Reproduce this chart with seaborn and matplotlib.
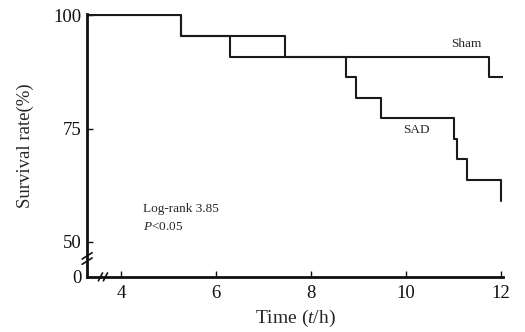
import pandas as pd
import matplotlib.pyplot as plt
import seaborn as sns

sns.set_style("ticks")
plt.rcParams['font.family'] = ['Liberation Serif', 'DejaVu Serif']
plt.rcParams['mathtext.fontset'] = 'custom'
plt.rcParams['mathtext.rm'] = 'Liberation Serif'
plt.rcParams['mathtext.it'] = 'Liberation Serif:italic'

# Kaplan-Meier steps (time in h, survival in %)
sham_t = [3.3, 5.27, 7.45, 11.75, 12.05]
sham_s = [100, 95.45, 90.9, 86.4, 86.4]
sad_t = [3.3, 5.27, 6.3, 8.75, 8.96, 9.48, 11.02, 11.08, 11.3, 12.0]
sad_s = [100, 95.45, 90.9, 86.4, 81.8, 77.3, 72.7, 68.2, 63.6, 59.1]

xticks = [4, 6, 8, 10, 12]
ybreak = 42.3  # where the broken axis shows "0"
yticks = [ybreak, 50, 75, 100]
ylabels = ['0', '50', '75', '100']

df = pd.concat([
    pd.DataFrame({"t": sham_t, "s": sham_s, "group": "Sham"}),
    pd.DataFrame({"t": sad_t, "s": sad_s, "group": "SAD"}),
])

fig = plt.figure(figsize=(5.25, 3.32), dpi=100)
ax = fig.add_axes([0.166, 0.166, 0.792, 0.792])
sns.lineplot(data=df, x="t", y="s", hue="group", units="group", estimator=None,
             palette={"Sham": "#1a1a1a", "SAD": "#1a1a1a"}, drawstyle="steps-post",
             linewidth=1.5, legend=False, ax=ax)

ax.set_xlim(3.28, 12.05)
ax.set_ylim(ybreak, 100.3)
ax.set_xticks(xticks)
ax.set_yticks(yticks)
ax.set_yticklabels(ylabels)
sns.despine(ax=ax)
for sp in ['left', 'bottom']:
    ax.spines[sp].set_linewidth(2)
    ax.spines[sp].set_color('#111111')
ax.tick_params(direction='in', length=4, width=1, labelsize=13.5, colors='#111111')
ax.tick_params(axis='y', pad=4)
ax.tick_params(axis='x', pad=6)
ax.yaxis.get_major_ticks()[0].tick1line.set_visible(False)

ax.set_xlabel("Time ($t$/h)", fontsize=14, labelpad=4)
ax.set_ylabel("Survival rate(%)", fontsize=13.5, labelpad=14)

ax.text(10.95, 93.0, "Sham", fontsize=9.5)
ax.text(9.95, 74.0, "SAD", fontsize=9.5)
ax.text(4.45, 56.6, "Log-rank 3.85", fontsize=9.5)
ax.text(4.45, 52.6, "$P$<0.05", fontsize=9.5)

# axis break marks
tr = ax.transAxes
for dx in (-0.006, 0.006):
    ax.plot([0.038 + dx - 0.005, 0.038 + dx + 0.005], [-0.015, 0.015], color='#111111',
            lw=1.2, transform=tr, clip_on=False)
for dy in (-0.01, 0.01):
    ax.plot([-0.012, 0.012], [0.07 + dy - 0.012, 0.07 + dy + 0.012], color='#111111',
            lw=1.2, transform=tr, clip_on=False)

plt.savefig("out.png", dpi=100)
